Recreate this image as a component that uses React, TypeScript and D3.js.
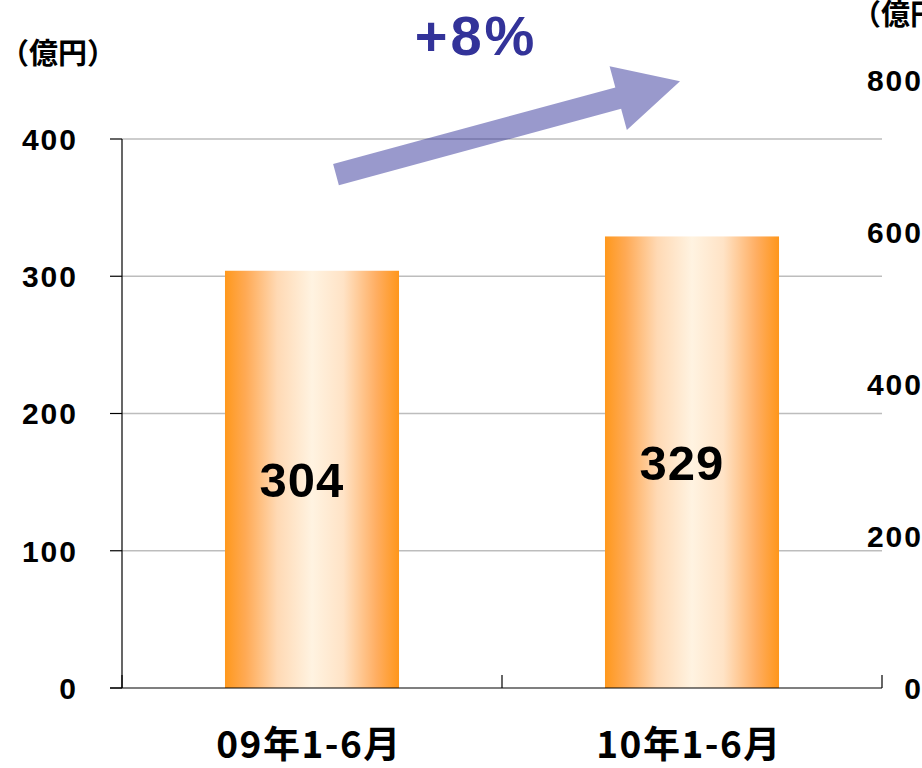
import React from "react";
import * as d3 from "d3";

// Half-year sales (億円)
const categories = ["09年1-6月", "10年1-6月"];
const sales = [304, 329];
const leftTicks = [0, 100, 200, 300, 400];
const rightTicks = [0, 200, 400, 600, 800];
const growthLabel = "+8%";
const unitLabel = "（億円）";
const unitLabelRight = "（億円）";

const W = 922;
const H = 768;
const M = { left: 122, right: 882, top: 139, bottom: 688 };

export default function App() {
  const x = d3
    .scaleBand<string>()
    .domain(categories)
    .range([M.left, M.right])
    .paddingInner(0.542)
    .paddingOuter(0.271);
  const y = d3.scaleLinear().domain([0, 400]).range([M.bottom, M.top]);
  const yR = d3.scaleLinear().domain([0, 800]).range([M.bottom, 80]);

  const step = (M.right - M.left) / categories.length;
  const centers = categories.map((c) => (x(c) as number) + x.bandwidth() / 2);

  // growth arrow from above the first bar to above the second
  const tail: [number, number] = [centers[0] + 24, y(374)];
  const tip: [number, number] = [centers[1] - 12, y(442)];
  const dx = tip[0] - tail[0];
  const dy = tip[1] - tail[1];
  const len = Math.hypot(dx, dy);
  const ux = dx / len;
  const uy = dy / len;
  const nx = -uy;
  const ny = ux;
  const shaftHalf = 11;
  const headHalf = 33;
  const headLen = 64;
  const bx = tip[0] - ux * headLen;
  const by = tip[1] - uy * headLen;
  const arrowPts: [number, number][] = [
    [tail[0] + nx * shaftHalf, tail[1] + ny * shaftHalf],
    [bx + nx * shaftHalf, by + ny * shaftHalf],
    [bx + nx * headHalf, by + ny * headHalf],
    tip,
    [bx - nx * headHalf, by - ny * headHalf],
    [bx - nx * shaftHalf, by - ny * shaftHalf],
    [tail[0] - nx * shaftHalf, tail[1] - ny * shaftHalf],
  ];
  const arrowPath = d3.line()(arrowPts) + "Z";

  const numFont = "'Liberation Sans', Arial, sans-serif";
  const cjkFont = "'Noto Sans CJK JP', 'Liberation Sans', sans-serif";

  return (
    <div style={{ position: "absolute", left: 0, top: 0 }}>
      <svg width={W} height={H} style={{ display: "block", background: "#fff" }}>
        <defs>
          <linearGradient id="barFill" x1="0" x2="1" y1="0" y2="0">
            <stop offset="0" stopColor="#FF981C" />
            <stop offset="0.12" stopColor="#FFAA55" />
            <stop offset="0.3" stopColor="#FFD9B4" />
            <stop offset="0.5" stopColor="#FFF3E1" />
            <stop offset="0.68" stopColor="#FFE3C6" />
            <stop offset="0.87" stopColor="#FFAE62" />
            <stop offset="1" stopColor="#FF961A" />
          </linearGradient>
        </defs>

        {/* gridlines */}
        {leftTicks
          .filter((t) => t > 0)
          .map((t) => (
            <line
              key={"g" + t}
              x1={M.left}
              x2={M.right}
              y1={y(t)}
              y2={y(t)}
              stroke="#BDBDBD"
              strokeWidth={1.5}
            />
          ))}

        {/* bars */}
        {categories.map((c, i) => (
          <rect
            key={c}
            x={x(c)}
            y={y(sales[i])}
            width={x.bandwidth()}
            height={y(0) - y(sales[i])}
            fill="url(#barFill)"
          />
        ))}

        {/* left axis */}
        <line x1={M.left} x2={M.left} y1={M.top} y2={M.bottom} stroke="#000" strokeWidth={1.2} />
        {leftTicks.map((t) => (
          <g key={"l" + t}>
            <line x1={M.left - 12} x2={M.left} y1={y(t)} y2={y(t)} stroke="#000" strokeWidth={1.2} />
            <text
              x={78}
              y={y(t)}
              dy="0.36em"
              textAnchor="end"
              fontFamily={numFont}
              fontWeight="bold"
              fontSize={30}
              letterSpacing={2}
            >
              {t}
            </text>
          </g>
        ))}

        {/* bottom axis with category boundary ticks */}
        <line x1={M.left - 12} x2={M.right} y1={M.bottom} y2={M.bottom} stroke="#000" strokeWidth={1.2} />
        {d3.range(categories.length + 1).map((i) => (
          <line
            key={"b" + i}
            x1={M.left + i * step}
            x2={M.left + i * step}
            y1={M.bottom}
            y2={M.bottom - 13}
            stroke="#000"
            strokeWidth={1.2}
          />
        ))}
        {categories.map((c, i) => (
          <text
            key={"c" + c}
            x={centers[i] - 3}
            y={745}
            dy="0.36em"
            textAnchor="middle"
            fontFamily={cjkFont}
            fontWeight="bold"
            fontSize={37}
            letterSpacing={1.5}
          >
            {c}
          </text>
        ))}

        {/* right axis labels */}
        {rightTicks.map((t) => (
          <text
            key={"r" + t}
            x={923}
            y={yR(t)}
            dy="0.36em"
            textAnchor="end"
            fontFamily={numFont}
            fontWeight="bold"
            fontSize={30}
            letterSpacing={2}
          >
            {t}
          </text>
        ))}

        {/* value labels */}
        {categories.map((c, i) => (
          <text
            key={"v" + c}
            x={centers[i] - 10}
            y={(y(sales[i]) + y(0)) / 2}
            dy="0.36em"
            textAnchor="middle"
            fontFamily={numFont}
            fontWeight="bold"
            fontSize={49}
            letterSpacing={1}
          >
            {sales[i]}
          </text>
        ))}

        {/* unit labels */}
        <text x={0} y={54} dy="0.36em" fontFamily={cjkFont} fontWeight="bold" fontSize={29}>
          {unitLabel}
        </text>
        <text x={852} y={15} dy="0.36em" fontFamily={cjkFont} fontWeight="bold" fontSize={29}>
          {unitLabelRight}
        </text>

        {/* growth arrow and label */}
        <path d={arrowPath} fill="#333399" fillOpacity={0.5} />
        <text
          x={476}
          y={35}
          dy="0.36em"
          textAnchor="middle"
          fontFamily={numFont}
          fontWeight="bold"
          fontSize={56}
          letterSpacing={3}
          fill="#333399"
        >
          {growthLabel}
        </text>
      </svg>
    </div>
  );
}
